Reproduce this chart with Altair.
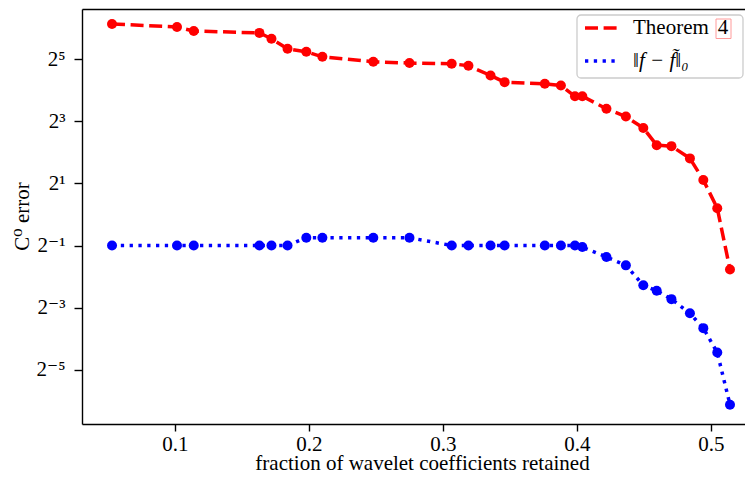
import altair as alt
import pandas as pd

# ---- data ----
fraction = [0.053, 0.1015, 0.114, 0.163, 0.172, 0.184, 0.198, 0.210, 0.248, 0.275,
            0.3065, 0.319, 0.3355, 0.346, 0.376, 0.388, 0.3985, 0.404, 0.422, 0.4365,
            0.4495, 0.4595, 0.4705, 0.4843, 0.4943, 0.5047, 0.5142]
theorem4 = [70.5, 65.8, 60.1, 57.7, 50.6, 40.5, 37.8, 33.8, 30.3, 29.4,
            29.0, 27.7, 22.3, 19.2, 18.5, 17.8, 14.0, 14.0, 10.6, 8.9,
            6.9, 4.7, 4.6, 3.5, 2.16, 1.15, 0.293]
actual = [0.5, 0.5, 0.5, 0.5, 0.5, 0.5, 0.595, 0.595, 0.595, 0.595,
          0.5, 0.5, 0.5, 0.5, 0.5, 0.5, 0.5, 0.483, 0.387, 0.321,
          0.206, 0.182, 0.151, 0.110, 0.079, 0.0458, 0.0143]
series_names = ["Theorem 4", "‖f − f̃‖₀"]
x_ticks = [0.1, 0.2, 0.3, 0.4, 0.5]
y_ticks = [2 ** -5, 2 ** -3, 2 ** -1, 2, 8, 32]

df = pd.DataFrame({
    "fraction": fraction + fraction,
    "error": theorem4 + actual,
    "series": [series_names[0]] * len(fraction) + [series_names[1]] * len(actual),
})

FONT = "Liberation Serif, DejaVu Serif, serif"
FS = 21
W, H = 663, 415

xscale = alt.Scale(domain=[0.0306, 0.5254], nice=False, zero=False)
yscale = alt.Scale(type="log", base=2, domain=[2 ** -6.75, 2 ** 6.62], nice=False)
color = alt.Color("series:N", scale=alt.Scale(domain=series_names, range=["#ff0000", "#0000ff"]), legend=None)
dash = alt.StrokeDash("series:N", scale=alt.Scale(domain=series_names, range=[[13, 5.6], [3.3, 5.5]]), legend=None)

y_label_expr = ("datum.value > 16 ? '2⁵' : datum.value > 4 ? '2³' : datum.value > 1 ? '2¹' : "
                "datum.value > 0.25 ? '2⁻¹' : datum.value > 0.0625 ? '2⁻³' : '2⁻⁵'")

y_axis = alt.Axis(values=y_ticks, labelExpr=y_label_expr, title="C⁰ error",
                  tickSize=8, labelPadding=9, labelBaseline="middle",
                  titleX=-60, titleY=207, titleAngle=270, titleAlign="center",
                  titleBaseline="middle")

base = alt.Chart(df)

lines = base.mark_line(strokeWidth=3.5, strokeCap="butt").encode(
    x=alt.X("fraction:Q", scale=xscale,
            axis=alt.Axis(values=x_ticks, format=".1f", title="fraction of wavelet coefficients retained",
                          tickSize=7, labelPadding=19, labelBaseline="alphabetic",
                          titleX=340, titleY=45, titleAlign="center", titleBaseline="alphabetic")),
    y=alt.Y("error:Q", scale=yscale, axis=y_axis),
    color=color,
    strokeDash=dash,
    detail="series:N",
)

points = base.mark_circle(size=100, opacity=1).encode(
    x=alt.X("fraction:Q", scale=xscale, axis=None),
    y=alt.Y("error:Q", scale=yscale, axis=y_axis),
    color=color,
)

top_spine = base.mark_point(opacity=0).encode(
    x=alt.X("fraction:Q", scale=xscale,
            axis=alt.Axis(orient="top", labels=False, ticks=False, title=None, domain=True)),
)

one = pd.DataFrame({"k": [0]})
leg = alt.Chart(one)
leg_box = leg.mark_rect(fill="white", fillOpacity=0.85, stroke="#cccccc", strokeWidth=1.3, cornerRadius=4).encode(
    x=alt.value(495), x2=alt.value(661), y=alt.value(6), y2=alt.value(69))
leg_red = leg.mark_rule(color="#ff0000", strokeWidth=3.5, strokeDash=[13, 5.6]).encode(
    x=alt.value(503), x2=alt.value(535), y=alt.value(19))
leg_blue = leg.mark_rule(color="#0000ff", strokeWidth=3.5, strokeDash=[3.3, 5.5]).encode(
    x=alt.value(503), x2=alt.value(535), y=alt.value(52))
leg_t1 = leg.mark_text(align="left", baseline="middle", font=FONT, fontSize=FS, color="black").encode(
    x=alt.value(551), y=alt.value(19), text=alt.value("Theorem"))
leg_4 = leg.mark_text(align="center", baseline="middle", font=FONT, fontSize=FS, color="black").encode(
    x=alt.value(641), y=alt.value(19), text=alt.value("4"))
leg_4box = leg.mark_rect(fillOpacity=0, stroke="#ff9a9a", strokeWidth=1).encode(
    x=alt.value(634), x2=alt.value(649), y=alt.value(10), y2=alt.value(29.5))
leg_t2 = leg.mark_text(align="left", baseline="middle", font=FONT, fontSize=FS, fontStyle="italic",
                       color="black").encode(
    x=alt.value(551), y=alt.value(52), text=alt.value(series_names[1]))

chart = alt.layer(
    lines, points, top_spine,
    leg_box, leg_red, leg_blue, leg_t1, leg_4, leg_4box, leg_t2,
).resolve_axis(x="independent").properties(
    width=W, height=H,
    autosize=alt.AutoSizeParams(type="none"),
    padding={"left": 74, "top": 1, "right": 0, "bottom": 50},
).configure_view(strokeWidth=0, strokeOpacity=0).configure_axis(
    grid=False,
    domainColor="#000000", domainWidth=1.4,
    tickColor="#000000", tickWidth=1.4,
    labelFont=FONT, labelFontSize=FS, labelColor="black",
    titleFont=FONT, titleFontSize=FS, titleFontWeight="normal", titleColor="black",
)

chart.save("out.html", embed_options={"renderer": "svg", "actions": False})
